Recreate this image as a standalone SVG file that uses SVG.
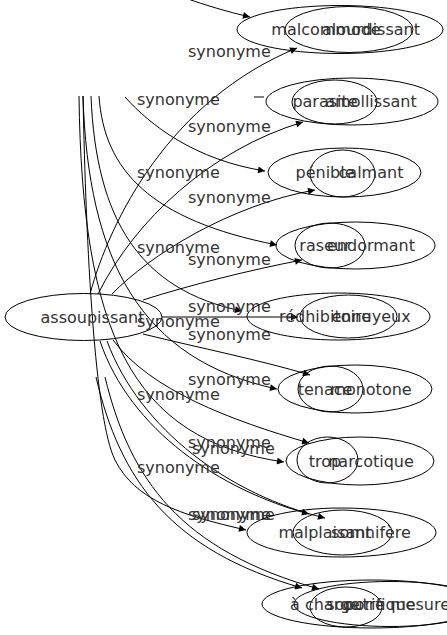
<svg xmlns="http://www.w3.org/2000/svg" width="447" height="635" viewBox="0 0 447 635">
<defs>
<marker id="ah" viewBox="0 0 10 10" refX="10" refY="5" markerWidth="10" markerHeight="7" markerUnits="userSpaceOnUse" orient="auto"><path d="M0,0 L10,5 L0,10 z" fill="#000"/></marker>
<style>
.n ellipse{fill:none;stroke:#000;stroke-width:1}
.e path{fill:none;stroke:#000;stroke-width:1;marker-end:url(#ah)}
.e path.s{marker-end:none}
text{font-family:"DejaVu Sans","Liberation Sans",sans-serif;font-size:16px;fill:#333}
.a{text-anchor:middle}
</style>
</defs>
<rect width="447" height="635" fill="#fff"/>
<g id="edges" class="e">
<path d="M185,-2 C205,5 228,12 250,17"/>
<path class="s" d="M254,97 L264,97"/>
<path d="M125,97 C150,125 195,160 265,171"/>
<path d="M99,96 C104,170 150,220 277,245"/>
<path d="M91,96 C96,220 140,290 242,311"/>
<path d="M83,96 C88,260 140,360 277,389"/>
<path d="M79,96 C82,330 130,440 284,462"/>
<path d="M83,96 C86,250 95,420 115,460 S180,515 246,530"/>
<path d="M96,377 C120,480 170,550 302,588"/>
<path d="M105,377 C130,480 180,550 319,589"/>
<path d="M90,294 C110,220 170,100 297,48"/>
<path d="M98,294 C135,220 210,150 303,122"/>
<path d="M112,294 C150,255 230,205 315,190"/>
<path d="M143,300 C190,285 250,270 302,260"/>
<path d="M162,317 L298,317"/>
<path d="M143,334 C200,348 260,360 310,375"/>
<path d="M113,340 C150,390 230,420 309,443"/>
<path d="M100,341 C130,430 220,490 309,514"/>
<path d="M107,341 C140,430 230,495 325,518"/>
</g>
<g id="labels">
<text x="188" y="56.5">synonyme</text>
<text x="137" y="104.5">synonyme</text>
<text x="188" y="131.5">synonyme</text>
<text x="137" y="177.5">synonyme</text>
<text x="188" y="202.5">synonyme</text>
<text x="137" y="252.5">synonyme</text>
<text x="188" y="264.5">synonyme</text>
<text x="188" y="311.5">synonyme</text>
<text x="137" y="326.5">synonyme</text>
<text x="188" y="339.5">synonyme</text>
<text x="188" y="384.5">synonyme</text>
<text x="137" y="399.5">synonyme</text>
<text x="188" y="447.5">synonyme</text>
<text x="192" y="454">synonyme</text>
<text x="137" y="472.5">synonyme</text>
<text x="188" y="519.5">synonyme</text>
<text x="192" y="519.5">synonyme</text>
</g>
<g id="assoupissant" class="n"><ellipse cx="83.5" cy="317" rx="78.5" ry="23.5"/><text class="a" x="92.5" y="322.5">assoupissant</text></g>
<g id="row1" class="n"><ellipse cx="340" cy="29.5" rx="103" ry="24"/><ellipse cx="349" cy="29.5" rx="64" ry="23"/><text class="a" x="326" y="35">malcommode</text><text class="a" x="371" y="35">alourdissant</text></g>
<g id="row2" class="n"><ellipse cx="352" cy="101.5" rx="86" ry="23.5"/><ellipse cx="334.5" cy="102" rx="42.5" ry="22"/><text class="a" x="325" y="107">parasite</text><text class="a" x="371" y="107">amollissant</text></g>
<g id="row3" class="n"><ellipse cx="344.5" cy="172.5" rx="76.5" ry="24.5"/><ellipse cx="342.5" cy="173.5" rx="32.5" ry="23.5"/><text class="a" x="325" y="178">pénible</text><text class="a" x="371" y="178">calmant</text></g>
<g id="row4" class="n"><ellipse cx="355.5" cy="245.5" rx="79.5" ry="23.5"/><ellipse cx="330" cy="245.5" rx="35" ry="22.5"/><text class="a" x="325" y="251">raseur</text><text class="a" x="371" y="251">endormant</text></g>
<g id="row5" class="n"><ellipse cx="338.5" cy="316.5" rx="91.5" ry="23.5"/><ellipse cx="348.5" cy="316.5" rx="48.5" ry="21.5"/><text class="a" x="325" y="322">rédhibitoire</text><text class="a" x="371" y="322">ennuyeux</text></g>
<g id="row6" class="n"><ellipse cx="355" cy="389" rx="77" ry="24"/><ellipse cx="330.5" cy="389" rx="32.5" ry="23"/><text class="a" x="325" y="394.5">tenace</text><text class="a" x="371" y="394.5">monotone</text></g>
<g id="row7" class="n"><ellipse cx="360" cy="461" rx="74" ry="24"/><ellipse cx="327.5" cy="460" rx="30.5" ry="23"/><text class="a" x="325" y="466.5">trop</text><text class="a" x="371" y="466.5">narcotique</text></g>
<g id="row8" class="n"><ellipse cx="341.5" cy="532.5" rx="94.5" ry="24.5"/><ellipse cx="342.5" cy="532.5" rx="49.5" ry="22.5"/><text class="a" x="325" y="538">malplaisant</text><text class="a" x="371" y="538">somnifère</text></g>
<g id="row9" class="n"><ellipse cx="372" cy="604" rx="110" ry="24"/><ellipse cx="390" cy="604" rx="96" ry="22.5"/><ellipse cx="346" cy="607" rx="36" ry="20"/><text class="a" x="325" y="610">à charge</text><text class="a" x="371" y="610">soporifique</text><text x="450" y="610" text-anchor="end">outre mesure</text></g>
</svg>
